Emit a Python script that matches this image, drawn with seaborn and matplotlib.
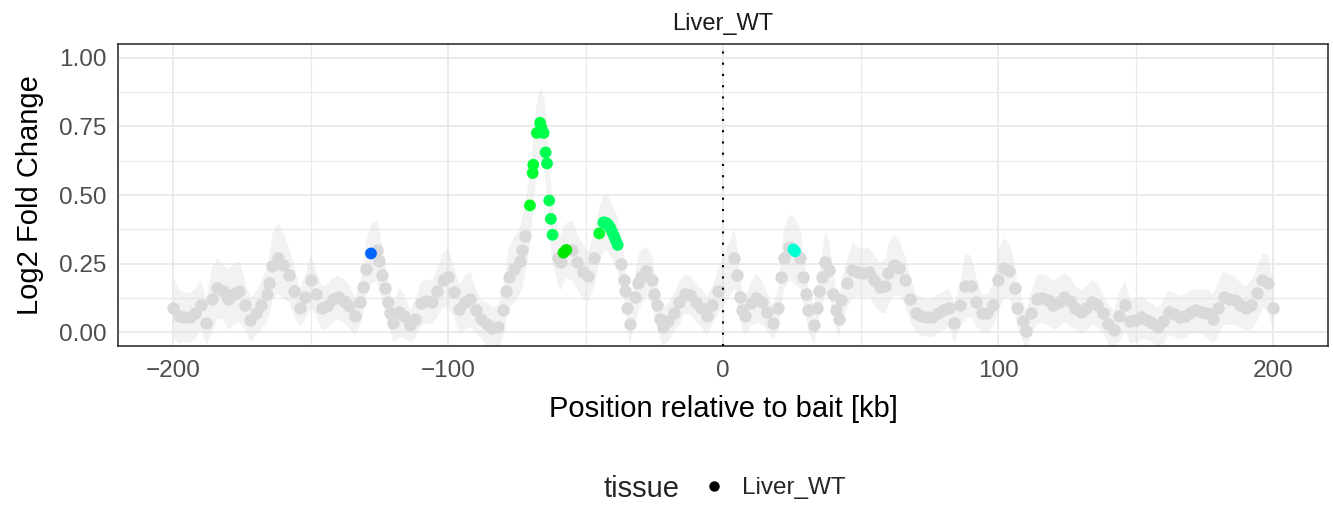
import matplotlib
matplotlib.use("Agg")
import matplotlib.pyplot as plt
from matplotlib.lines import Line2D
import numpy as np
import pandas as pd
import seaborn as sns

# ---------------- data ----------------
gray_x = [-200, -198, -196, -194, -192, -190, -188, -186, -184, -182, -180, -178, -176, -174, -172, -170,
          -168, -166, -165, -164, -162, -160, -158, -156, -154, -152, -150, -148, -146, -144, -142, -140,
          -138, -136, -134, -132, -131, -130, -126, -125, -124, -123, -122, -121, -120, -118, -116, -114,
          -112, -110, -108, -106, -104, -102, -100, -98, -96, -94, -92, -90, -88, -86, -84, -82, -80, -79,
          -78, -76, -74, -73, -72,
          -60, -59, -55, -53, -51, -49, -47,
          -37, -36, -35.5, -35, -34, -32, -31, -30, -28, -26, -25, -24, -23, -22, -20, -18, -16, -14, -12,
          -10, -8, -6, -4, -2,
          4, 5, 6, 7, 8, 10, 12, 14, 16, 18, 20, 21, 22, 24, 28, 29, 30, 31, 33, 34, 35, 36, 37, 38.6, 40,
          41, 42, 43, 45, 47, 49, 51, 53, 55, 57, 59, 60, 62, 64, 66, 68, 70, 72, 74, 76, 78, 80, 82, 84,
          86, 88, 90, 92, 94, 96, 98, 100, 102, 104, 106, 107, 109, 110, 112, 114, 116, 118, 120, 122, 124,
          126, 128, 130, 132, 134, 136, 138, 140, 142, 144, 146, 148, 150, 152, 154, 156, 158, 160, 162,
          164, 166, 168, 170, 172, 174, 176, 178, 180, 182, 184, 186, 188, 190, 192, 194, 196, 198, 200]
gray_y = [0.09, 0.06, 0.055, 0.055, 0.07, 0.10, 0.035, 0.12, 0.16, 0.15, 0.12, 0.14, 0.15, 0.10, 0.045, 0.07,
          0.10, 0.14, 0.18, 0.24, 0.27, 0.245, 0.21, 0.15, 0.09, 0.13, 0.19, 0.14, 0.09, 0.095, 0.12, 0.128,
          0.115, 0.095, 0.06, 0.11, 0.164, 0.23, 0.30, 0.26, 0.21, 0.16, 0.11, 0.07, 0.035, 0.075, 0.06, 0.025,
          0.05, 0.105, 0.115, 0.11, 0.15, 0.19, 0.20, 0.145, 0.085, 0.11, 0.12, 0.08, 0.05, 0.03, 0.015, 0.02,
          0.08, 0.15, 0.20, 0.23, 0.26, 0.30, 0.35,
          0.27, 0.255, 0.30, 0.255, 0.22, 0.205, 0.27,
          0.25, 0.19, 0.15, 0.09, 0.03, 0.13, 0.18, 0.20, 0.225, 0.19, 0.14, 0.10, 0.05, 0.02, 0.04, 0.07,
          0.11, 0.14, 0.135, 0.11, 0.09, 0.06, 0.10, 0.15,
          0.27, 0.21, 0.13, 0.08, 0.06, 0.105, 0.125, 0.11, 0.075, 0.035, 0.09, 0.20, 0.27, 0.31, 0.27, 0.20,
          0.14, 0.08, 0.025, 0.09, 0.15, 0.20, 0.255, 0.226, 0.14, 0.08, 0.05, 0.117, 0.18, 0.226, 0.22, 0.215,
          0.22, 0.19, 0.165, 0.17, 0.215, 0.245, 0.235, 0.19, 0.12, 0.07, 0.06, 0.055, 0.055, 0.07, 0.08, 0.09,
          0.035, 0.10, 0.17, 0.17, 0.11, 0.07, 0.07, 0.10, 0.19, 0.235, 0.225, 0.16, 0.09, 0.04, 0.005, 0.07,
          0.12, 0.125, 0.117, 0.10, 0.11, 0.128, 0.115, 0.09, 0.075, 0.09, 0.11, 0.10, 0.07, 0.03, 0.01, 0.06,
          0.10, 0.04, 0.045, 0.055, 0.045, 0.035, 0.02, 0.04, 0.073, 0.065, 0.055, 0.06, 0.075, 0.08, 0.075,
          0.07, 0.05, 0.09, 0.128, 0.12, 0.117, 0.10, 0.088, 0.10, 0.142, 0.19, 0.18, 0.09]
gray_hw = [0.11, 0.10, 0.09, 0.09, 0.09, 0.09, 0.08, 0.12, 0.11, 0.10, 0.11, 0.11, 0.11, 0.09, 0.08, 0.08,
           0.09, 0.10, 0.11, 0.12, 0.13, 0.12, 0.10, 0.09, 0.07, 0.08, 0.10, 0.08, 0.08, 0.08, 0.08, 0.08,
           0.08, 0.08, 0.07, 0.08, 0.09, 0.10, 0.11, 0.11, 0.10, 0.09, 0.08, 0.07, 0.07, 0.09, 0.08, 0.06,
           0.07, 0.08, 0.08, 0.08, 0.09, 0.10, 0.11, 0.09, 0.09, 0.10, 0.10, 0.08, 0.07, 0.08, 0.08, 0.08,
           0.09, 0.10, 0.11, 0.12, 0.12, 0.13, 0.13,
           0.10, 0.10, 0.11, 0.10, 0.10, 0.09, 0.10,
           0.09, 0.08, 0.08, 0.07, 0.07, 0.09, 0.10, 0.10, 0.09, 0.09, 0.08, 0.08, 0.07, 0.07, 0.07, 0.07,
           0.08, 0.07, 0.07, 0.07, 0.07, 0.07, 0.07, 0.08,
           0.11, 0.10, 0.08, 0.07, 0.07, 0.08, 0.09, 0.08, 0.07, 0.06, 0.08, 0.10, 0.11, 0.12, 0.11, 0.10,
           0.09, 0.08, 0.07, 0.08, 0.09, 0.10, 0.115, 0.10, 0.08, 0.07, 0.07, 0.08, 0.09, 0.10, 0.09, 0.09,
           0.09, 0.09, 0.09, 0.10, 0.11, 0.11, 0.10, 0.09, 0.08, 0.07, 0.07, 0.07, 0.07, 0.07, 0.07, 0.07,
           0.07, 0.08, 0.12, 0.11, 0.09, 0.07, 0.07, 0.08, 0.11, 0.11, 0.10, 0.09, 0.08, 0.07, 0.07, 0.08,
           0.09, 0.09, 0.09, 0.09, 0.09, 0.09, 0.09, 0.08, 0.08, 0.08, 0.08, 0.08, 0.07, 0.07, 0.07, 0.09,
           0.09, 0.08, 0.08, 0.08, 0.07, 0.07, 0.07, 0.08, 0.08, 0.08, 0.08, 0.08, 0.08, 0.08, 0.08, 0.09,
           0.09, 0.10, 0.10, 0.09, 0.09, 0.08, 0.08, 0.09, 0.10, 0.10, 0.10, 0.09]

# highlighted (coloured) fragments
hl_x = [-128, -70.2, -69.2, -69, -67.7, -66.5, -66, -65.2, -64.5, -64, -63.2, -62.6, -62,
        -58, -57, -45, -43.5, -43, -42.3, -41.6, -41, -40.3, -39.6, -39, -38.3, 25.6, 26.2]
hl_y = [0.287, 0.462, 0.58, 0.61, 0.726, 0.763, 0.745, 0.726, 0.655, 0.615, 0.48, 0.413, 0.355,
        0.29, 0.30, 0.36, 0.40, 0.40, 0.397, 0.39, 0.38, 0.365, 0.35, 0.335, 0.318, 0.302, 0.295]
hl_hw = [0.11, 0.13, 0.13, 0.13, 0.13, 0.13, 0.13, 0.13, 0.13, 0.13, 0.12, 0.12, 0.11,
         0.10, 0.10, 0.10, 0.10, 0.10, 0.10, 0.10, 0.10, 0.10, 0.10, 0.10, 0.10, 0.12, 0.12]
hl_color = ["#0066FF", "#00FF22", "#00FF33", "#00FF33", "#00FF3C", "#00FF44", "#00FF44", "#00FF4A",
            "#00FF50", "#00FF50", "#00FF55", "#00FF55", "#00FF58",
            "#00E600", "#00E600", "#00FF33", "#00FF6A", "#00FF6A", "#00FF6A", "#00FF6A", "#00FF6A",
            "#00FF6A", "#00FF6A", "#00FF6A", "#00FF6A", "#00FFD5", "#00FFD5"]

tissue = "Liver_WT"
x_ticks = [-200, -100, 0, 100, 200]
y_ticks = [0.00, 0.25, 0.50, 0.75, 1.00]

# ---------------- figure ----------------
sns.set_style("white")
plt.rcParams["font.family"] = ["Liberation Sans", "DejaVu Sans"]

fig = plt.figure(figsize=(13.33, 5.05), dpi=100)
ax = fig.add_axes([118 / 1333, 1 - 346 / 505, (1328 - 118) / 1333, (346 - 44) / 505])

# ribbon from all points
rib = pd.DataFrame({"x": gray_x + hl_x, "y": gray_y + hl_y, "hw": gray_hw + hl_hw}).sort_values("x")
ax.fill_between(rib["x"], rib["y"] - rib["hw"], rib["y"] + rib["hw"],
                color="#D9D9D9", alpha=0.33, linewidth=0, zorder=1)

gray_df = pd.DataFrame({"x": gray_x, "y": gray_y, "tissue": tissue})
sns.scatterplot(data=gray_df, x="x", y="y", color="#D9D9D9", s=80, linewidth=0,
                ax=ax, legend=False, zorder=2)
hl_df = pd.DataFrame({"x": hl_x, "y": hl_y, "c": hl_color})
sns.scatterplot(data=hl_df, x="x", y="y", hue="c", palette={c: c for c in set(hl_color)},
                s=72, linewidth=0, ax=ax, legend=False, zorder=3)

ax.axvline(0, color="black", linewidth=1.5, linestyle=(0, (1, 4.4)), zorder=4)

ax.set_xlim(-220, 220)
ax.set_ylim(-0.05, 1.05)
ax.set_xticks(x_ticks)
ax.set_xticklabels([f"{v}".replace("-", "\u2212") for v in x_ticks])
ax.set_yticks(y_ticks)
ax.set_yticklabels([f"{v:.2f}" for v in y_ticks])
ax.set_xticks([-150, -50, 50, 150], minor=True)
ax.set_yticks([0.125, 0.375, 0.625, 0.875], minor=True)
ax.grid(True, which="major", color="#EBEBEB", linewidth=1.4, zorder=0)
ax.grid(True, which="minor", color="#EBEBEB", linewidth=0.9, zorder=0)
ax.set_axisbelow(True)
for sp in ax.spines.values():
    sp.set_color("#333333")
    sp.set_linewidth(1.2)
ax.tick_params(which="major", length=4.3, width=1.1, color="#333333",
               labelcolor="#4D4D4D", labelsize=17.5)
ax.tick_params(axis="x", which="major", pad=5.5)
ax.tick_params(axis="y", which="major", pad=4)
ax.tick_params(which="minor", length=0)

ax.set_xlabel("Position relative to bait [kb]", fontsize=21, color="black", labelpad=9.5)
ax.set_ylabel("Log2 Fold Change", fontsize=21, color="black", labelpad=10.5)
ax.set_title(tissue, fontsize=17, color="#1A1A1A", pad=10)

# legend
fig.text(603 / 1333, 1 - 489 / 505, "tissue", fontsize=21, ha="left", va="center")
handle = Line2D([], [], marker="o", linestyle="none", color="black", markersize=6.5)
fig.legend([handle], [tissue], loc="center left", bbox_to_anchor=(702 / 1333, 1 - 488 / 505),
           frameon=False, fontsize=17.5, handlelength=1.0, handletextpad=0.65,
           borderpad=0, borderaxespad=0)

fig.savefig("out.png", dpi=100)
